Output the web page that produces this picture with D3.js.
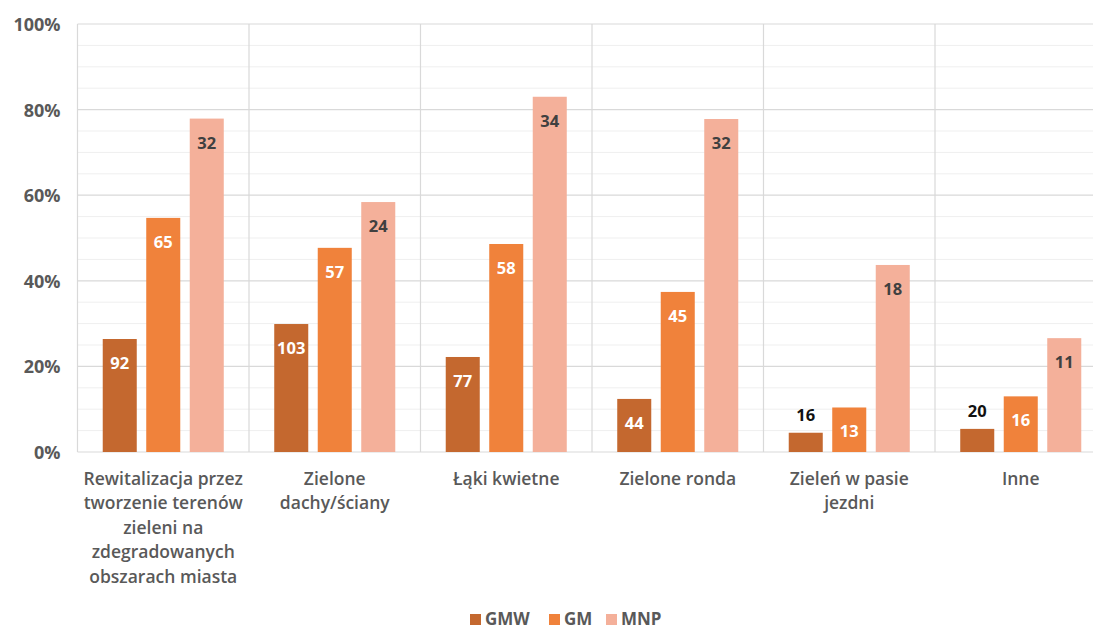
<!DOCTYPE html>
<html><head><meta charset="utf-8">
<script src="https://cdn.jsdelivr.net/npm/d3@7"></script>
<style>
body{margin:0;background:#fff;}
svg{display:block;font-family:"Open Sans",sans-serif;}
</style></head>
<body><svg id="c" width="1093" height="630"></svg>
<script>
const categories = [
  ["Rewitalizacja przez","tworzenie terenów","zieleni na","zdegradowanych","obszarach miasta"],
  ["Zielone","dachy/ściany"],
  ["Łąki kwietne"],
  ["Zielone ronda"],
  ["Zieleń w pasie","jezdni"],
  ["Inne"]
];
const seriesNames = ["GMW","GM","MNP"];
const gmwPct = [26.4, 29.9, 22.2, 12.4, 4.5, 5.4];
const gmPct  = [54.7, 47.7, 48.6, 37.4, 10.4, 13.0];
const mnpPct = [77.9, 58.4, 83.0, 77.8, 43.7, 26.6];
const gmwN = [92, 103, 77, 44, 16, 20];
const gmN  = [65, 57, 58, 45, 13, 16];
const mnpN = [32, 24, 34, 32, 18, 11];
const yTicks = [0, 20, 40, 60, 80, 100];
const colors = ["#c4682f", "#f0823b", "#f4b09a"];
const innerLabelColors = ["#ffffff", "#ffffff", "#404040"];

const pct = [gmwPct, gmPct, mnpPct];
const counts = [gmwN, gmN, mnpN];

const svg = d3.select("#c");
const pLeft = 77.5, pRight = 1106.5, pTop = 24, pBottom = 452;

const x0 = d3.scaleBand().domain(d3.range(categories.length)).range([pLeft, pRight]).padding(0);
const x1 = d3.scaleBand().domain(seriesNames).range([0, x0.bandwidth()]).paddingInner(0.218).paddingOuter(0.58);
const y = d3.scaleLinear().domain([0, 100]).range([pBottom, pTop]);

const g = svg.append("g");
g.selectAll("line.minor").data(d3.range(5, 100, 5).filter(v => v % 20 !== 0)).join("line")
  .attr("x1", pLeft).attr("x2", pRight)
  .attr("y1", d => y(d)).attr("y2", d => y(d))
  .attr("stroke", "#efefef").attr("stroke-width", 1);
g.selectAll("line.major").data(yTicks).join("line")
  .attr("x1", pLeft).attr("x2", pRight)
  .attr("y1", d => y(d)).attr("y2", d => y(d))
  .attr("stroke", "#d9d9d9").attr("stroke-width", 1.2);
g.selectAll("line.sep").data(d3.range(categories.length + 1)).join("line")
  .attr("x1", d => d < categories.length ? x0(d) : pRight)
  .attr("x2", d => d < categories.length ? x0(d) : pRight)
  .attr("y1", pTop).attr("y2", pBottom)
  .attr("stroke", "#d9d9d9").attr("stroke-width", 1.2);

const yAxis = d3.axisLeft(y).tickValues(yTicks).tickFormat(d => d + "%").tickSize(0).tickPadding(17);
const ya = svg.append("g").attr("transform", `translate(${pLeft},0)`).call(yAxis);
ya.select(".domain").remove();
ya.selectAll("text").attr("font-size", 18).attr("font-weight", 700).attr("fill", "#595959")
  .attr("font-family", "'Open Sans',sans-serif").attr("dy", "0.36em");

seriesNames.forEach((s, si) => {
  const grp = svg.append("g");
  categories.forEach((c, ci) => {
    const v = pct[si][ci];
    const bx = x0(ci) + x1(s);
    const bw = x1.bandwidth();
    const by = y(v);
    const bh = pBottom - by;
    grp.append("rect").attr("x", bx).attr("y", by).attr("width", bw).attr("height", bh).attr("fill", colors[si]);
    const inside = bh > 30;
    grp.append("text")
      .attr("x", bx + bw / 2)
      .attr("y", inside ? by + 30 : by - 12)
      .attr("text-anchor", "middle")
      .attr("font-size", 16.5).attr("font-weight", 700)
      .attr("fill", inside ? innerLabelColors[si] : "#111111")
      .text(counts[si][ci]);
  });
});

categories.forEach((lines, ci) => {
  const cx = x0(ci) + x0.bandwidth() / 2;
  const t = svg.append("text")
    .attr("x", cx)
    .attr("y", 485)
    .attr("text-anchor", "middle")
    .attr("font-size", 17.5).attr("font-weight", 600)
    .attr("fill", "#595959");
  lines.forEach((ln, li) => {
    t.append("tspan").attr("x", cx).attr("dy", li === 0 ? 0 : 24.4).text(ln);
  });
});

const legendX = [470, 549, 606];
const leg = svg.append("g");
seriesNames.forEach((s, si) => {
  leg.append("rect").attr("x", legendX[si]).attr("y", 614).attr("width", 11).attr("height", 11).attr("fill", colors[si]);
  leg.append("text").attr("x", legendX[si] + 15).attr("y", 624.5)
    .attr("font-size", 17).attr("font-weight", 700).attr("fill", "#595959").text(s);
});
</script></body></html>
